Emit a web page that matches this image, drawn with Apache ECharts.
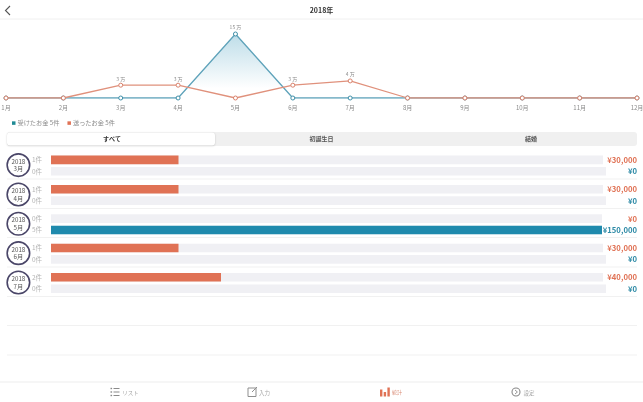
<!DOCTYPE html>
<html><head><meta charset="utf-8">
<style>html,body{margin:0;padding:0;background:#fff}#c{width:643px;height:402px}</style>
<script src="https://cdn.jsdelivr.net/npm/echarts@6/dist/echarts.min.js"></script>
</head><body><div id="c"></div>
<script>
const monthLabels = ['1月','2月','3月','4月','5月','6月','7月','8月','9月','10月','11月','12月'];
const receivedMan = [0,0,0,0,15,0,0,0,0,0,0,0];
const sentMan = [0,0,3,3,0,3,4,0,0,0,0,0];
const receivedName = '受けたお金 5件';
const sentName = '送ったお金 5件';
const rowMonths = ['3月','4月','5月','6月','7月'];
const sentCounts = [1,1,0,1,2];
const sentAmounts = [30000,30000,0,30000,40000];
const receivedCounts = [0,0,5,0,0];
const receivedAmounts = [0,0,150000,0,0];
const tabs = ['すべて','初誕生日','結婚'];
const navItems = ['リスト','入力','統計','設定'];

const FONT = '"Noto Sans CJK JP","Noto Sans",sans-serif';
const TEAL='#2d8aa6', RED='#e07255', LINE_RED='#e0917c', TRACK='#f0f0f4', GREY='#b4b4b4', RULE='#eeeeee';
const barLeft=51, barRight=606, barW=barRight-barLeft, rowStep=29.35;
const sentMax=barW/4.25*1000, recvMax=150000*barW/551;
const yenLabel=v=>'¥'+v.toLocaleString('en-US');

// the grey track stops short of the amount label, so it depends on how wide that label is
const trackPx=(own,other)=>Math.max(own,other)>=100000?551:(own>0?552:555);

function barAxes(gridIndex,counts,amounts,color,max){
  return {
    x:{type:'value',gridIndex,min:0,max,show:false},
    y:[
      {type:'category',gridIndex,inverse:true,data:rowMonths,position:'left',
       axisLine:{show:false},axisTick:{show:false},
       axisLabel:{margin:9,fontSize:6.5,color:GREY,fontFamily:FONT,formatter:(v,i)=>counts[i]+'件'}},
      {type:'category',gridIndex,inverse:true,data:rowMonths,position:'right',
       axisLine:{show:false},axisTick:{show:false},
       axisLabel:{margin:31,align:'right',fontSize:7.7,fontWeight:'bold',color,fontFamily:FONT,formatter:(v,i)=>yenLabel(amounts[i])}}
    ]
  };
}
const axA=barAxes(1,sentCounts,sentAmounts,RED,sentMax);
const axB=barAxes(2,receivedCounts,receivedAmounts,TEAL,recvMax);

function rule(y,x1=7,x2=637,c=RULE){return {type:'line',silent:true,z:0,shape:{x1,y1:y,x2,y2:y},style:{stroke:c,lineWidth:0.8}};}
function txt(x,y,text,size,fill,weight,align='center'){return {type:'text',silent:true,z:5,x,y,style:{text,fontSize:size,fill,fontWeight:weight||'normal',fontFamily:FONT,align,verticalAlign:'middle'}};}

const navGrey='#a8a8a8';
const graphics=[
  rule(19,0,643,'#ececec'),
  {type:'polyline',silent:true,shape:{points:[[10,6],[5.5,10.5],[10,15]]},style:{stroke:'#555',lineWidth:1.1,fill:null}},
  txt(321.5,10,'2018年',7,'#333','bold'),
  {type:'rect',silent:true,z:0,shape:{x:7,y:132,width:630,height:14,r:3},style:{fill:'#f0f0f0'}},
  {type:'rect',silent:true,z:1,shape:{x:7,y:132.5,width:208,height:13,r:3},style:{fill:'#fff',shadowBlur:2,shadowColor:'rgba(0,0,0,0.2)',shadowOffsetY:0.5}},
  txt(112,139,tabs[0],6,'#333','bold'),
  txt(321.5,139,tabs[1],6,'#555','bold'),
  txt(531,139,tabs[2],6,'#555','bold'),
  rule(179),rule(208.5),rule(237.5),rule(267),rule(296.5),rule(325.5),rule(355),
  rule(382,0,643,'#e8e8e8'),
  ...[388.5,392,395.5].flatMap(y=>[
    {type:'rect',silent:true,shape:{x:110.5,y:y-0.7,width:1.6,height:1.4},style:{fill:'#8a8a8a'}},
    {type:'rect',silent:true,shape:{x:113.5,y:y-0.5,width:6,height:1},style:{fill:'#8a8a8a'}}]),
  txt(130.5,392.5,navItems[0],5.5,navGrey),
  {type:'rect',silent:true,shape:{x:248,y:388,width:8,height:8.5},style:{fill:'none',stroke:'#8f8f8f',lineWidth:1}},
  {type:'line',silent:true,shape:{x1:252,y1:392,x2:257,y2:387},style:{stroke:'#8f8f8f',lineWidth:1}},
  txt(264.5,392.5,navItems[1],5.5,navGrey),
  {type:'rect',silent:true,shape:{x:380,y:389.5,width:2.4,height:7},style:{fill:RED}},
  {type:'rect',silent:true,shape:{x:383.7,y:392,width:2.4,height:4.5},style:{fill:RED}},
  {type:'rect',silent:true,shape:{x:387.4,y:387.5,width:2.4,height:9},style:{fill:RED}},
  txt(397,392.5,navItems[2],5,'#d98a74'),
  {type:'circle',silent:true,shape:{cx:516,cy:392,r:4},style:{fill:'none',stroke:'#8a8a8a',lineWidth:1.1}},
  {type:'polyline',silent:true,shape:{points:[[515,390],[517.4,392],[515,394]]},style:{stroke:'#8a8a8a',lineWidth:0.9,fill:null}},
  txt(529,392.5,navItems[3],5.5,navGrey)
];

const baseLine={type:'line',xAxisIndex:0,yAxisIndex:0,symbol:'circle',symbolSize:4,showSymbol:true,showAllSymbol:true,animation:false,
  emphasis:{disabled:true}};
const pointLabel={show:true,position:'top',distance:1.5,fontSize:5,color:'#8a8a8a',fontFamily:FONT,
  formatter:p=>p.value>0?p.value+' 万':''};

const option={
  animation:false,
  backgroundColor:'#fff',
  textStyle:{fontFamily:FONT},
  graphic:graphics,
  legend:{left:7,top:115,itemWidth:3.5,itemHeight:3.5,itemGap:8,icon:'rect',
    textStyle:{fontSize:6.2,color:'#8a8a8a',fontFamily:FONT,padding:[0,0,0,-3]},
    data:[{name:receivedName,itemStyle:{color:'#1f8a95',borderWidth:0}},{name:sentName,itemStyle:{color:'#e07255',borderWidth:0}}]},
  grid:[
    {left:6,right:6,top:34,height:64,outerBoundsMode:'none'},
    {left:barLeft,width:barW,top:159.9-rowStep/2,height:rowStep*5,outerBoundsMode:'none'},
    {left:barLeft,width:barW,top:171.3-rowStep/2,height:rowStep*5,outerBoundsMode:'none'},
    {left:18.4,width:1,top:165.1-rowStep/2,height:rowStep*5,outerBoundsMode:'none'}
  ],
  xAxis:[
    {type:'category',gridIndex:0,boundaryGap:false,data:monthLabels,axisLine:{show:false},axisTick:{show:false},
     axisLabel:{interval:0,margin:6.5,fontSize:6,color:'#8a8a8a',fontFamily:FONT,showMinLabel:true,showMaxLabel:true,hideOverlap:false}},
    axA.x,axB.x,
    {type:'value',gridIndex:3,min:0,max:1,show:false}
  ],
  yAxis:[
    {type:'value',gridIndex:0,min:0,max:15,show:false},
    ...axA.y,...axB.y,
    {type:'category',gridIndex:3,inverse:true,data:rowMonths,show:false}
  ],
  series:[
    {...baseLine,name:receivedName,data:receivedMan,z:3,
     lineStyle:{width:1.3,color:'#5fa3ba'},
     itemStyle:{color:'#fff',borderColor:'#3f8fa8',borderWidth:1},
     areaStyle:{color:{type:'linear',x:0,y:0,x2:0,y2:1,colorStops:[{offset:0,color:'rgba(130,190,212,0.75)'},{offset:0.85,color:'rgba(130,190,212,0)'}]}},
     label:pointLabel},
    {...baseLine,name:sentName,data:sentMan,z:4,
     lineStyle:{width:1.3,color:LINE_RED},
     itemStyle:{color:'#fff',borderColor:'#d9826c',borderWidth:1},
     label:pointLabel},
    {type:'bar',xAxisIndex:1,yAxisIndex:1,barWidth:8.6,barGap:'-100%',z:2,silent:true,animation:false,
     data:sentAmounts.map((v,i)=>trackPx(v,receivedAmounts[i])/barW*sentMax),itemStyle:{color:TRACK}},
    {type:'bar',xAxisIndex:1,yAxisIndex:1,barWidth:8.6,barGap:'-100%',z:3,silent:true,animation:false,
     data:sentAmounts,itemStyle:{color:RED}},
    {type:'bar',xAxisIndex:2,yAxisIndex:3,barWidth:8.6,barGap:'-100%',z:2,silent:true,animation:false,
     data:receivedAmounts.map((v,i)=>trackPx(v,sentAmounts[i])/barW*recvMax),itemStyle:{color:TRACK}},
    {type:'bar',xAxisIndex:2,yAxisIndex:3,barWidth:8.6,barGap:'-100%',z:3,silent:true,animation:false,
     data:receivedAmounts,itemStyle:{color:'#1f8aad'}},
    {type:'scatter',xAxisIndex:3,yAxisIndex:5,symbol:'circle',symbolSize:22.5,z:4,silent:true,animation:false,
     data:rowMonths.map((m,i)=>[0,i]),
     itemStyle:{color:'#fff',borderColor:'#4a4668',borderWidth:1.6,opacity:1},
     label:{show:true,position:'inside',fontSize:6.2,lineHeight:7.5,color:'#555',fontFamily:FONT,
       formatter:p=>'2018\n'+rowMonths[p.dataIndex]}}
  ]
};
const chart=echarts.init(document.getElementById('c'),null,{renderer:'canvas'});
chart.setOption(option);
</script></body></html>
